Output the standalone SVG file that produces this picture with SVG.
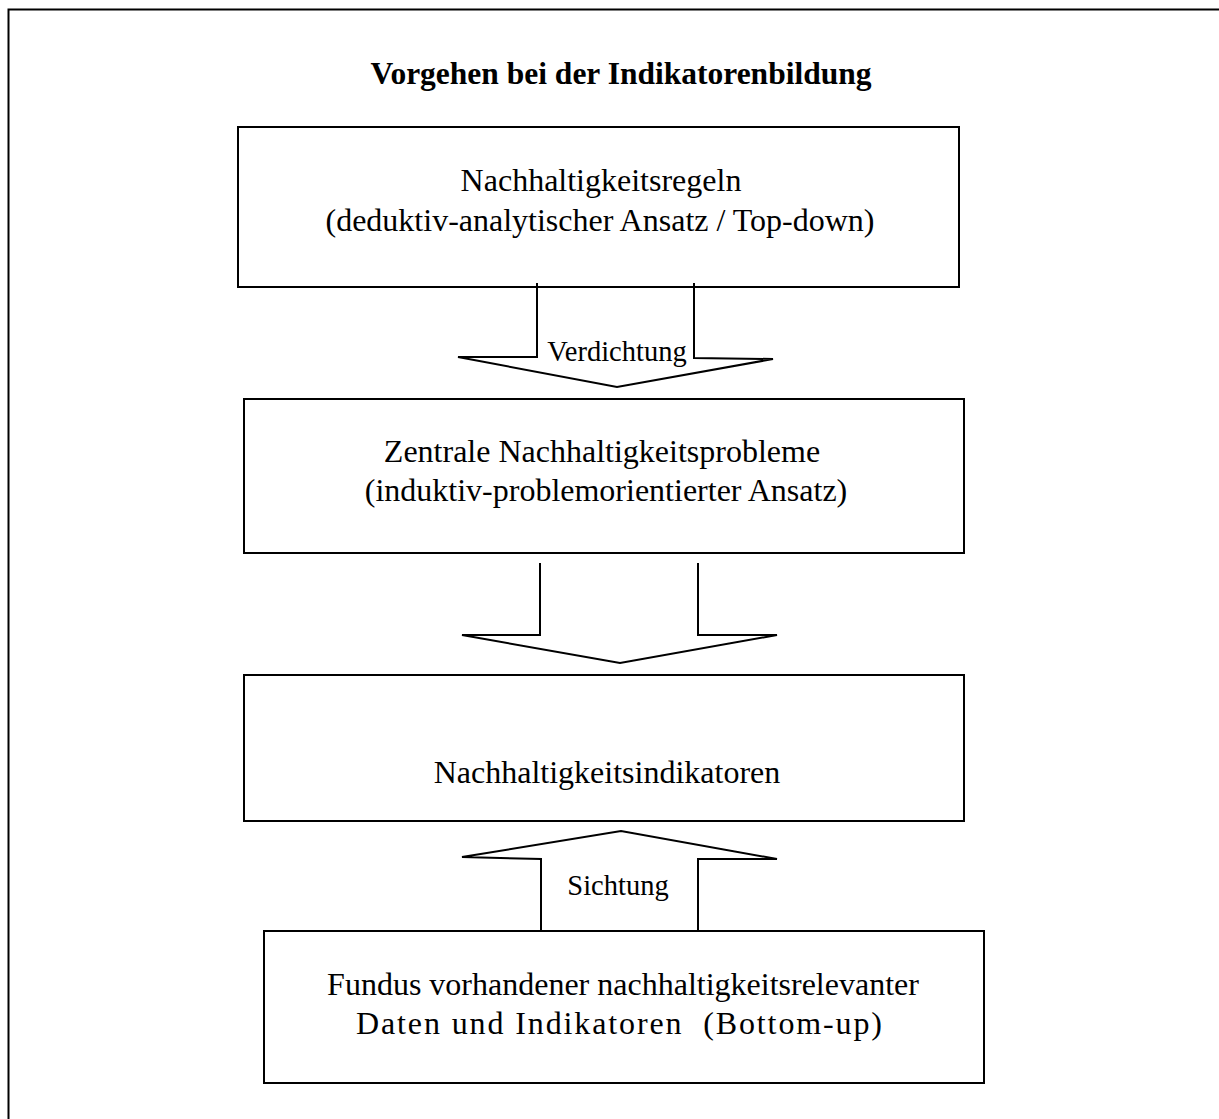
<svg xmlns="http://www.w3.org/2000/svg" width="1219" height="1119" viewBox="0 0 1219 1119">
<style>
.box{fill:none;stroke:#000;stroke-width:2}
.arr{fill:none;stroke:#000;stroke-width:2;stroke-linejoin:miter}
.t{font-family:"Liberation Serif","Times New Roman",serif;font-size:32px;fill:#000;text-anchor:middle}
.s{font-family:"Liberation Serif","Times New Roman",serif;font-size:28.5px;fill:#000;text-anchor:middle}
.h{font-family:"Liberation Serif","Times New Roman",serif;font-size:31.5px;font-weight:bold;fill:#000;text-anchor:middle}
</style>
<rect width="1219" height="1119" fill="#fff"/>
<rect x="8.5" y="9.5" width="1300" height="1200" class="box" stroke-width="2.5"/>
<text id="title" class="h" x="621" y="84">Vorgehen bei der Indikatorenbildung</text>
<g id="n1">
<rect x="238" y="127" width="721" height="160" class="box"/>
<text class="t" x="601" y="191">Nachhaltigkeitsregeln</text>
<text class="t" x="600" y="231">(deduktiv-analytischer Ansatz / Top-down)</text>
</g>
<g id="n2">
<rect x="244" y="399" width="720" height="154" class="box"/>
<text class="t" x="602" y="462">Zentrale Nachhaltigkeitsprobleme</text>
<text class="t" x="606" y="501">(induktiv-problemorientierter Ansatz)</text>
</g>
<g id="n3">
<rect x="244" y="675" width="720" height="146" class="box"/>
<text class="t" x="607" y="783">Nachhaltigkeitsindikatoren</text>
</g>
<g id="n4">
<rect x="264" y="931" width="720" height="152" class="box"/>
<text class="t" x="623" y="995">Fundus vorhandener nachhaltigkeitsrelevanter</text>
<text class="t" x="619" y="1034" xml:space="preserve" textLength="526" lengthAdjust="spacing">Daten und Indikatoren  (Bottom-up)</text>
</g>
<g id="connectors">
<polyline class="arr" points="537,283 537,357 458,357 617,387 773,359 694,358 694,283"/>
<text class="s" x="617" y="361">Verdichtung</text>
<polyline class="arr" points="540,563 540,635 462,635 620,663 777,635 698,635 698,563"/>
<polyline class="arr" points="541,930 541,859 462,857 621,831 777,859 698,859 698,930"/>
<text class="s" x="618" y="895">Sichtung</text>
</g>
</svg>
